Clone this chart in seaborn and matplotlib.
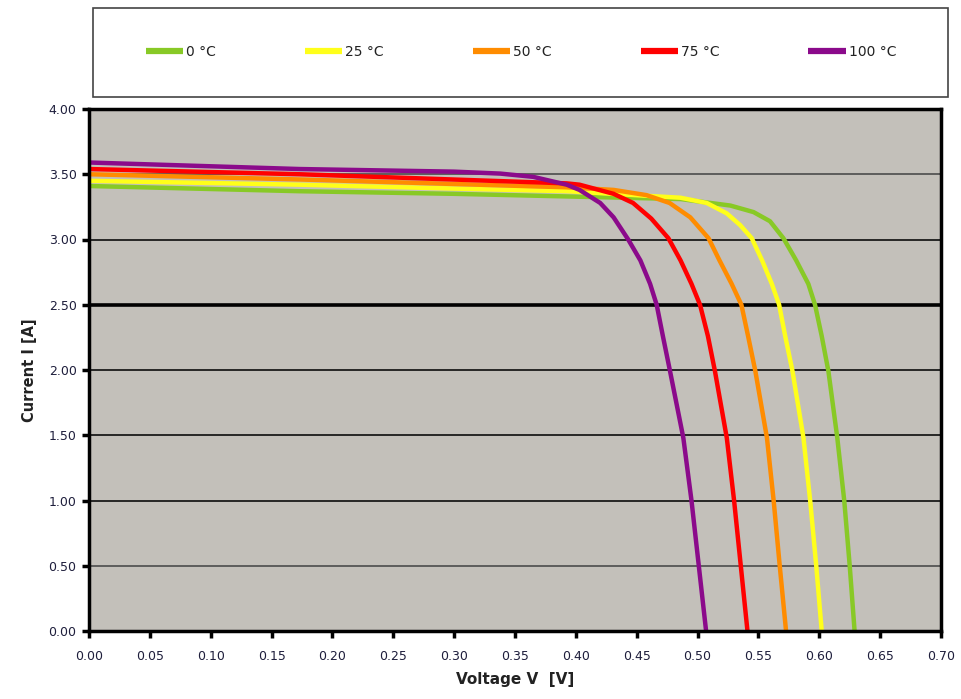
import numpy as np
import pandas as pd
import matplotlib
matplotlib.use("Agg")
import matplotlib.pyplot as plt
import matplotlib.patches as mpatches
import seaborn as sns

# ---- data ----
temps = ["0 °C", "25 °C", "50 °C", "75 °C", "100 °C"]
colors = ["#88C926", "#FFFF1A", "#FF8C00", "#FF0000", "#8B0A8B"]

v_0 = [0.000, 0.173, 0.300, 0.3925, 0.486, 0.527, 0.546, 0.5595, 0.5705, 0.581,
       0.591, 0.5965, 0.602, 0.6075, 0.6148, 0.6205, 0.625, 0.629]
i_0 = [3.41, 3.37, 3.35, 3.33, 3.31, 3.26, 3.21, 3.14, 3.01, 2.84,
       2.66, 2.50, 2.26, 1.99, 1.48, 1.00, 0.50, 0.00]

v_25 = [0.000, 0.173, 0.300, 0.3925, 0.486, 0.5075, 0.524, 0.535, 0.5445, 0.553,
        0.561, 0.567, 0.572, 0.578, 0.587, 0.5925, 0.5975, 0.602]
i_25 = [3.45, 3.42, 3.39, 3.37, 3.32, 3.28, 3.20, 3.11, 3.01, 2.84,
        2.66, 2.50, 2.26, 1.99, 1.48, 1.00, 0.50, 0.00]

v_50 = [0.000, 0.173, 0.3925, 0.431, 0.458, 0.477, 0.494, 0.509, 0.518, 0.528,
        0.536, 0.5415, 0.5475, 0.557, 0.5625, 0.5675, 0.5727]
i_50 = [3.50, 3.46, 3.40, 3.38, 3.34, 3.28, 3.17, 3.01, 2.84, 2.66,
        2.50, 2.26, 1.99, 1.48, 1.00, 0.50, 0.00]

v_75 = [0.000, 0.173, 0.3925, 0.403, 0.431, 0.447, 0.462, 0.476, 0.486, 0.495,
        0.502, 0.5085, 0.5143, 0.524, 0.530, 0.5355, 0.541]
i_75 = [3.54, 3.50, 3.43, 3.42, 3.35, 3.28, 3.16, 3.01, 2.84, 2.66,
        2.50, 2.26, 1.99, 1.48, 1.00, 0.50, 0.00]

v_100 = [0.000, 0.173, 0.300, 0.338, 0.365, 0.3925, 0.403, 0.420, 0.431, 0.443,
         0.453, 0.461, 0.4664, 0.4715, 0.4774, 0.4883, 0.4950, 0.5010, 0.507]
i_100 = [3.59, 3.54, 3.52, 3.505, 3.48, 3.42, 3.38, 3.28, 3.17, 3.00,
         2.84, 2.66, 2.50, 2.26, 1.99, 1.48, 1.00, 0.50, 0.00]

x_ticks = [0.00, 0.05, 0.10, 0.15, 0.20, 0.25, 0.30, 0.35, 0.40, 0.45, 0.50,
           0.55, 0.60, 0.65, 0.70]
y_ticks = [0.00, 0.50, 1.00, 1.50, 2.00, 2.50, 3.00, 3.50, 4.00]

volts = [v_0, v_25, v_50, v_75, v_100]
currs = [i_0, i_25, i_50, i_75, i_100]
frames = []
for t, v, c in zip(temps, volts, currs):
    frames.append(pd.DataFrame({"V": v, "I": c, "T": t}))
df = pd.concat(frames, ignore_index=True)

# ---- figure ----
sns.set_style("white")
plt.rcParams["font.family"] = ["DejaVu Sans"]
fig = plt.figure(figsize=(9.62, 6.99), dpi=100)
ax = fig.add_axes([89 / 962, 1 - 631 / 699, (941 - 89) / 962, (631 - 109) / 699])
ax.set_facecolor("#C3C0BA")

sns.lineplot(data=df, x="V", y="I", hue="T", hue_order=temps,
             palette=dict(zip(temps, colors)), sort=False, estimator=None,
             units="T", linewidth=3.2, ax=ax, legend=True)
for ln in ax.get_lines():
    ln.set_solid_joinstyle("round")

ax.set_xlim(0, 0.70)
ax.set_ylim(0, 4.0)
ax.set_xticks(x_ticks)
ax.set_yticks(y_ticks)
ax.set_xticklabels([f"{x:.2f}" for x in x_ticks])
ax.set_yticklabels([f"{y:.2f}" for y in y_ticks])
tick_col = "#1E1E3C"
ax.tick_params(axis="both", direction="out", length=5, width=2.5, color="black",
               labelsize=9, labelcolor=tick_col)
ax.tick_params(axis="x", pad=9)
ax.tick_params(axis="y", pad=4)
ax.tick_params(bottom=True, left=True)

ax.set_axisbelow(True)
ax.yaxis.grid(True, color="#1a1a1a", linewidth=1.3)
ax.xaxis.grid(False)
for gl, yv in zip(ax.yaxis.get_gridlines(), y_ticks):
    if abs(yv - 2.5) < 1e-9:
        gl.set_linewidth(2.6)
        gl.set_color("black")
    elif abs(yv - 3.5) < 1e-9 or abs(yv - 0.5) < 1e-9:
        gl.set_color("#555555")
        gl.set_linewidth(1.3)

for s in ax.spines.values():
    s.set_visible(True)
    s.set_color("black")
    s.set_linewidth(2.5)

ax.set_xlabel("Voltage V  [V]", fontsize=11, fontweight="bold", color="#222222",
              labelpad=6)
ax.set_ylabel("Current I [A]", fontsize=10.5, fontweight="bold", color="#222222",
              labelpad=8)

# legend in a separate box at the top
handles, labels = ax.get_legend_handles_labels()
ax.get_legend().remove()
for h in handles:
    h.set_linewidth(4.5)
    h.set_solid_capstyle("butt")
fig.patches.append(mpatches.Rectangle((93 / 962, 1 - 97 / 699), (948 - 93) / 962,
                                      (97 - 8) / 699, transform=fig.transFigure,
                                      fill=False, edgecolor="#444444", linewidth=1.2))
fig.legend(handles, labels, loc="center left",
           bbox_to_anchor=(139 / 962, 1 - 52 / 699), ncol=5, frameon=False,
           fontsize=10, handlelength=2.7, handletextpad=0.2, columnspacing=6.4,
           borderpad=0, labelcolor="#222222")

fig.savefig("out.png", dpi=100)
